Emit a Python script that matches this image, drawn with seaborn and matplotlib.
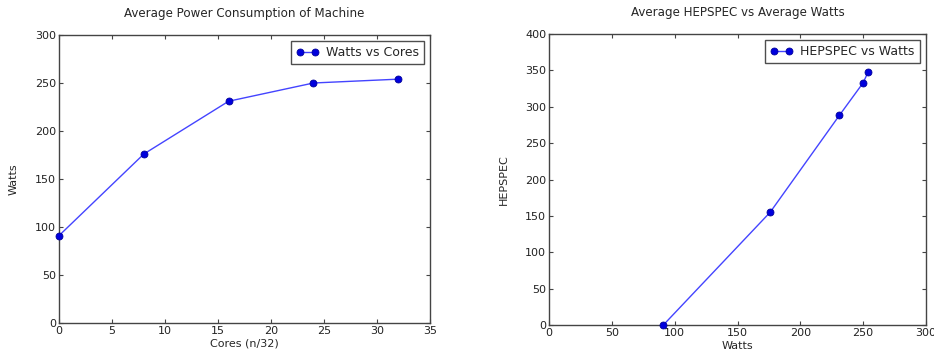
import numpy as np
import pandas as pd
import matplotlib
matplotlib.use("Agg")
import matplotlib.pyplot as plt
import seaborn as sns

# values
cores = [0, 8, 16, 24, 32]
watts = [91, 176, 231, 250, 254]
hepspec = [0, 155, 288, 333, 348]

sns.set_style("ticks", {
    "xtick.direction": "in",
    "ytick.direction": "in",
    "axes.edgecolor": "#444444",
})
plt.rcParams["font.family"] = ["DejaVu Sans"]
plt.rcParams["xtick.top"] = True
plt.rcParams["ytick.right"] = True
plt.rcParams["xtick.major.size"] = 3
plt.rcParams["ytick.major.size"] = 3
plt.rcParams["xtick.color"] = "#444444"
plt.rcParams["ytick.color"] = "#444444"
plt.rcParams["xtick.labelcolor"] = "#222222"
plt.rcParams["ytick.labelcolor"] = "#222222"

df1 = pd.DataFrame({"cores": cores, "watts": watts})
df2 = pd.DataFrame({"watts": watts, "hepspec": hepspec})

fig = plt.figure(figsize=(9.34, 3.54), dpi=100)
ax1 = fig.add_axes([59 / 934, 1 - 323 / 354, (430 - 59) / 934, (323 - 35) / 354])
ax2 = fig.add_axes([549 / 934, 1 - 325 / 354, (926 - 549) / 934, (325 - 34) / 354])


def draw(ax, data, x, y, label):
    sns.lineplot(data=data, x=x, y=y, ax=ax, color="#4444ff", linewidth=1,
                 marker="o", markersize=5, markerfacecolor="#0000dd",
                 markeredgecolor="#000099", markeredgewidth=0.6,
                 label=label, clip_on=False, zorder=3)
    for s in ax.spines.values():
        s.set_visible(True)
        s.set_linewidth(1)
    ax.tick_params(labelsize=8, pad=2)
    leg = ax.legend(loc="upper right", fontsize=9, frameon=True, fancybox=False,
                    handlelength=1.8, numpoints=2, borderpad=0.4,
                    handletextpad=0.6)
    leg.get_frame().set_edgecolor("#222222")
    leg.get_frame().set_linewidth(1)


draw(ax1, df1, "cores", "watts", "Watts vs Cores")
ax1.set_xlim(0, 35)
ax1.set_ylim(0, 300)
ax1.set_xticks(np.arange(0, 36, 5))
ax1.set_yticks(np.arange(0, 301, 50))
ax1.set_xlabel("Cores (n/32)", fontsize=8, labelpad=2)
ax1.set_ylabel("Watts", fontsize=8, labelpad=12)
ax1.set_title("Average Power Consumption of Machine", fontsize=8.6, pad=13)

draw(ax2, df2, "watts", "hepspec", "HEPSPEC vs Watts")
ax2.set_xlim(0, 300)
ax2.set_ylim(0, 400)
ax2.set_xticks(np.arange(0, 301, 50))
ax2.set_yticks(np.arange(0, 401, 50))
ax2.set_xlabel("Watts", fontsize=8, labelpad=2)
ax2.set_ylabel("HEPSPEC", fontsize=8, labelpad=12)
ax2.set_title("Average HEPSPEC vs Average Watts", fontsize=8.6, pad=13)

fig.savefig("out.png", dpi=100)
